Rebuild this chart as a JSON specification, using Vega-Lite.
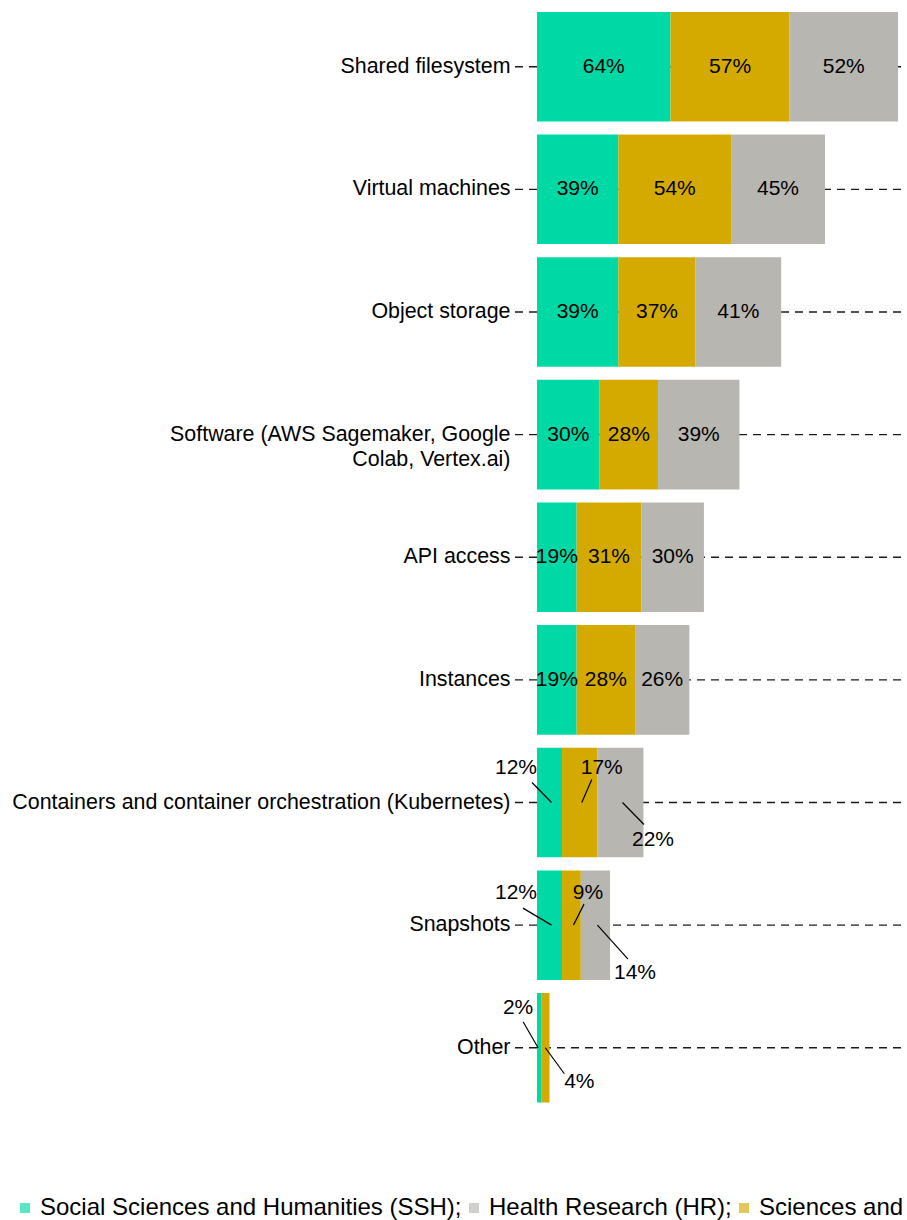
{
  "$schema": "https://vega.github.io/schema/vega-lite/v6.json",
  "autosize": "none",
  "width": 392,
  "height": 1104.5,
  "padding": {"left": 515, "top": 5, "right": 0, "bottom": 110.5},
  "background": "white",
  "config": {
    "view": {"stroke": null},
    "font": "Liberation Sans",
    "text": {"font": "Liberation Sans"}
  },
  "data": {
    "values": [
      {"cat": "Shared filesystem", "group": "SSH", "value": 64},
      {"cat": "Shared filesystem", "group": "SE", "value": 57},
      {"cat": "Shared filesystem", "group": "HR", "value": 52},
      {"cat": "Virtual machines", "group": "SSH", "value": 39},
      {"cat": "Virtual machines", "group": "SE", "value": 54},
      {"cat": "Virtual machines", "group": "HR", "value": 45},
      {"cat": "Object storage", "group": "SSH", "value": 39},
      {"cat": "Object storage", "group": "SE", "value": 37},
      {"cat": "Object storage", "group": "HR", "value": 41},
      {"cat": "Software (AWS Sagemaker, Google Colab, Vertex.ai)", "group": "SSH", "value": 30},
      {"cat": "Software (AWS Sagemaker, Google Colab, Vertex.ai)", "group": "SE", "value": 28},
      {"cat": "Software (AWS Sagemaker, Google Colab, Vertex.ai)", "group": "HR", "value": 39},
      {"cat": "API access", "group": "SSH", "value": 19},
      {"cat": "API access", "group": "SE", "value": 31},
      {"cat": "API access", "group": "HR", "value": 30},
      {"cat": "Instances", "group": "SSH", "value": 19},
      {"cat": "Instances", "group": "SE", "value": 28},
      {"cat": "Instances", "group": "HR", "value": 26},
      {"cat": "Containers and container orchestration (Kubernetes)", "group": "SSH", "value": 12},
      {"cat": "Containers and container orchestration (Kubernetes)", "group": "SE", "value": 17},
      {"cat": "Containers and container orchestration (Kubernetes)", "group": "HR", "value": 22},
      {"cat": "Snapshots", "group": "SSH", "value": 12},
      {"cat": "Snapshots", "group": "SE", "value": 9},
      {"cat": "Snapshots", "group": "HR", "value": 14},
      {"cat": "Other", "group": "SSH", "value": 2},
      {"cat": "Other", "group": "SE", "value": 4}
    ]
  },
  "transform": [
    {"calculate": "indexof(['SSH','SE','HR'], datum.group)", "as": "ord"},
    {"stack": "value", "groupby": ["cat"], "sort": [{"field": "ord", "order": "ascending"}], "as": ["v0", "v1"]},
    {"calculate": "(datum.v0 + datum.v1) / 2", "as": "mid"},
    {"calculate": "datum.value + '%'", "as": "lbl"},
    {"calculate": "indexof(['Containers and container orchestration (Kubernetes)','Snapshots','Other'], datum.cat) >= 0", "as": "callout"}
  ],
  "encoding": {
    "y": {
      "field": "cat",
      "type": "nominal",
      "sort": ["Shared filesystem", "Virtual machines", "Object storage", "Software (AWS Sagemaker, Google Colab, Vertex.ai)", "API access", "Instances", "Containers and container orchestration (Kubernetes)", "Snapshots", "Other"],
      "scale": {"paddingInner": 0.107, "paddingOuter": 0.057},
      "axis": {
        "title": null,
        "ticks": false,
        "domain": false,
        "grid": false,
        "labelFont": "Liberation Sans",
        "labelFontSize": 21.4,
        "labelColor": "#000000",
        "labelPadding": 5,
        "labelLimit": 0,
        "labelLineHeight": 25,
        "labelExpr": "datum.label == 'Software (AWS Sagemaker, Google Colab, Vertex.ai)' ? ['Software (AWS Sagemaker, Google', 'Colab, Vertex.ai)'] : datum.label"
      }
    }
  },
  "layer": [
    {
      "transform": [{"filter": "datum.group == 'SSH'"}],
      "mark": {"type": "rule", "stroke": "#1a1a1a", "strokeWidth": 1.3, "strokeDash": [8, 6]},
      "encoding": {
        "x": {"datum": -10.54, "type": "quantitative", "scale": {"domain": [-10.54, 177.3], "nice": false, "zero": false}, "axis": null},
        "x2": {"datum": 177.3}
      }
    },
    {
      "mark": {"type": "bar", "opacity": 1},
      "encoding": {
        "x": {"field": "v0", "type": "quantitative", "axis": null},
        "x2": {"field": "v1"},
        "color": {
          "field": "group",
          "type": "nominal",
          "scale": {"domain": ["SSH", "HR", "SE"], "range": ["#00d9a6", "#b8b6b1", "#d4aa00"]},
          "legend": {
            "title": null,
            "orient": "none",
            "legendX": -502,
            "legendY": 1191,
            "direction": "horizontal",
            "symbolType": "square",
            "symbolSize": 100,
            "symbolOpacity": 0.65,
            "symbolStrokeWidth": 0,
            "labelFont": "Liberation Sans",
            "labelFontSize": 24,
            "labelColor": "#000000",
            "labelOffset": 3,
            "labelLimit": 0,
            "columnPadding": 0,
            "labelExpr": "datum.label == 'SSH' ? 'Social Sciences and Humanities (SSH);' : datum.label == 'HR' ? 'Health Research (HR);' : 'Sciences and Engineering (SE)'"
          }
        }
      }
    },
    {
      "transform": [{"filter": "!datum.callout"}],
      "mark": {"type": "text", "fontSize": 21, "color": "#000000", "align": "center", "baseline": "middle"},
      "encoding": {
        "x": {"field": "mid", "type": "quantitative"},
        "text": {"field": "lbl"}
      }
    },
    {
      "transform": [{"filter": "datum.callout"}],
      "mark": {
        "type": "rule",
        "stroke": "#000000",
        "strokeWidth": 1.2,
        "xOffset": {"expr": "datum.cat == 'Other' ? (datum.group == 'SSH' ? -1 : 0) : 2"},
        "x2Offset": {"expr": "datum.cat == 'Other' ? (datum.group == 'SSH' ? -16 : 19) : datum.cat == 'Snapshots' ? (datum.group == 'SSH' ? -26.5 : datum.group == 'SE' ? 12.6 : 32.6) : (datum.group == 'SSH' ? -17.5 : datum.group == 'SE' ? 12 : 23.5)"},
        "y2Offset": {"expr": "datum.cat == 'Other' ? (datum.group == 'SSH' ? -26 : 26) : datum.cat == 'Snapshots' ? (datum.group == 'SSH' ? -17 : datum.group == 'SE' ? -21 : 34) : (datum.group == 'SSH' ? -20 : datum.group == 'SE' ? -23 : 22)"}
      },
      "encoding": {
        "x": {"field": "mid", "type": "quantitative"},
        "x2": {"field": "mid"},
        "y2": {"field": "cat"}
      }
    },
    {
      "transform": [{"filter": "datum.callout"}],
      "mark": {
        "type": "text",
        "fontSize": 21,
        "color": "#000000",
        "align": "center",
        "baseline": "middle",
        "dx": {"expr": "datum.cat == 'Other' ? (datum.group == 'SSH' ? -21 : 34) : datum.cat == 'Snapshots' ? (datum.group == 'SSH' ? -33.5 : datum.group == 'SE' ? 16.6 : 39.6) : (datum.group == 'SSH' ? -33.5 : datum.group == 'SE' ? 22 : 32.5)"},
        "dy": {"expr": "datum.cat == 'Other' ? (datum.group == 'SSH' ? -40 : 34) : datum.cat == 'Snapshots' ? (datum.group == 'HR' ? 48 : -32) : (datum.group == 'HR' ? 37 : -35)"}
      },
      "encoding": {
        "x": {"field": "mid", "type": "quantitative"},
        "text": {"field": "lbl"}
      }
    }
  ]
}
